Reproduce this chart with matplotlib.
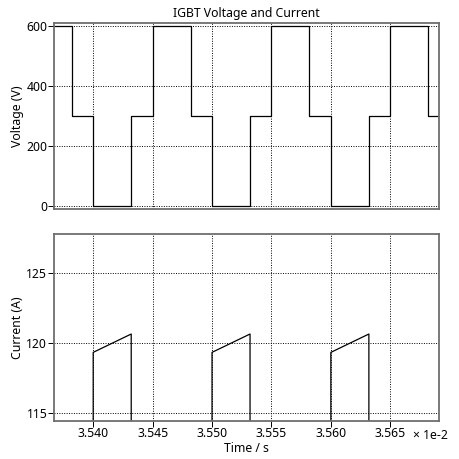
"""
IGBT voltage and current waveforms over three switching periods.
"""

import matplotlib
matplotlib.use("Agg")
import matplotlib.pyplot as plt
from matplotlib.ticker import FuncFormatter

plt.rcParams["font.family"] = ["Noto Sans", "DejaVu Sans"]

# ---------------------------------------------------------------------------
# Waveform data (time in seconds)
# ---------------------------------------------------------------------------

V_TIME = [0.035367, 0.035382, 0.035382, 0.035400, 0.035400, 0.035432, 0.035432,
          0.035450, 0.035450, 0.035482, 0.035482, 0.035500, 0.035500, 0.035532,
          0.035532, 0.035550, 0.035550, 0.035582, 0.035582, 0.035600, 0.035600,
          0.035632, 0.035632, 0.035650, 0.035650, 0.035682, 0.035682, 0.035691]
V_VALUE = [600, 600, 300, 300, 0, 0, 300,
           300, 600, 600, 300, 300, 0, 0,
           300, 300, 600, 600, 300, 300, 0,
           0, 300, 300, 600, 600, 300, 300]

I_TIME = [0.035367, 0.035400, 0.035400, 0.035432, 0.035432,
          0.035500, 0.035500, 0.035532, 0.035532,
          0.035600, 0.035600, 0.035632, 0.035632, 0.035691]
I_VALUE = [0, 0, 119.35, 120.66, 0,
           0, 119.35, 120.66, 0,
           0, 119.35, 120.66, 0, 0]

X_TICKS = [0.03540, 0.03545, 0.03550, 0.03555, 0.03560, 0.03565]
X_LIM = (0.035367, 0.035691)
V_TICKS = [0, 200, 400, 600]
I_TICKS = [115, 120, 125]

FONT = 8.8
FRAME = "#6e6e6e"

# ---------------------------------------------------------------------------
# Figure
# ---------------------------------------------------------------------------

fig = plt.figure(figsize=(4.59, 4.59), dpi=100)
ax_v = fig.add_axes([0.1176, 0.5447, 0.8388, 0.4052])
ax_i = fig.add_axes([0.1176, 0.0834, 0.8388, 0.4068])

ax_v.plot(V_TIME, V_VALUE, color="black", linewidth=0.9)
ax_i.plot(I_TIME, I_VALUE, color="black", linewidth=0.9)

ax_v.set_ylim(-10, 611)
ax_i.set_ylim(114.47, 127.8)

for ax, yticks in ((ax_v, V_TICKS), (ax_i, I_TICKS)):
    ax.set_xlim(*X_LIM)
    ax.set_xticks(X_TICKS)
    ax.set_yticks(yticks)
    ax.grid(True, color="black", linestyle=(0, (1, 1.5)), linewidth=0.7)
    for spine in ax.spines.values():
        spine.set_edgecolor(FRAME)
        spine.set_linewidth(1.3)
    ax.tick_params(axis="both", direction="out", length=4.3, width=0.7,
                   color="black", labelsize=FONT)
    ax.tick_params(axis="y", pad=0.5)
    ax.tick_params(axis="x", pad=0.3)

ax_v.tick_params(axis="x", labelbottom=False, length=0)
ax_i.xaxis.set_major_formatter(FuncFormatter(lambda x, _: f"{x * 100:.3f}"))

ax_v.set_title("IGBT Voltage and Current", fontsize=FONT, pad=4)
ax_v.set_ylabel("Voltage (V)", fontsize=FONT, labelpad=2)
ax_i.set_ylabel("Current (A)", fontsize=FONT, labelpad=2)
ax_i.set_xlabel("Time / s", fontsize=FONT, labelpad=1.5)

# axis multiplier, set to the right of the last tick label
fig.text(0.900, 0.0834 - 0.0185, "\u00d7 1e-2", fontsize=FONT,
         ha="left", va="top")

fig.savefig("out.png", dpi=100)
plt.close(fig)
